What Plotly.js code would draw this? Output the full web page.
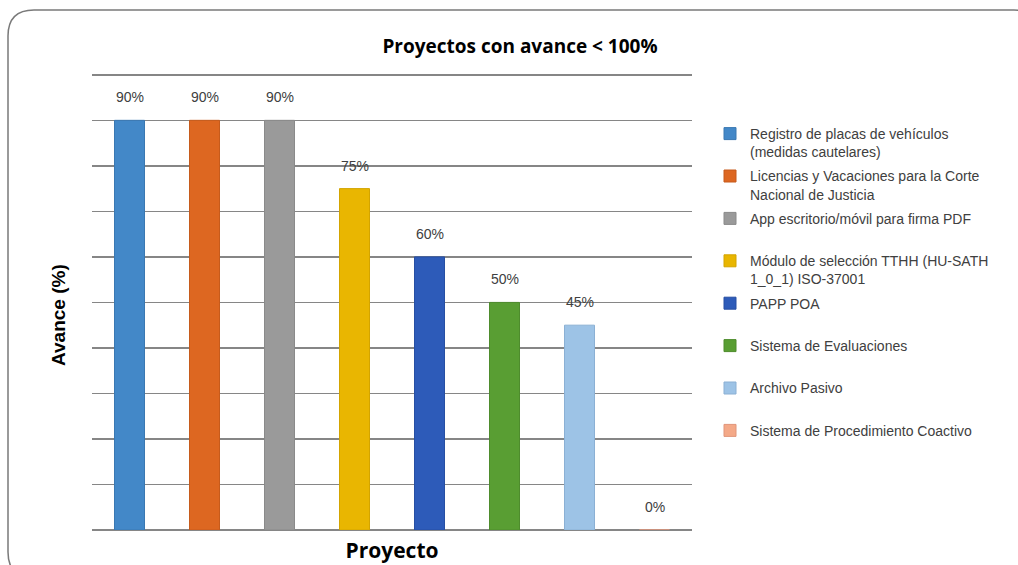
<!DOCTYPE html>
<html>
<head>
<meta charset="utf-8">
<script src="https://cdn.plot.ly/plotly-3.0.1.min.js"></script>
<style>
html,body{margin:0;padding:0;background:#fff;}
#chart{width:1018px;height:565px;}
</style>
</head>
<body>
<div id="chart"></div>
<script>
// ---- data ----
var categories = [
  "Registro de placas de vehículos (medidas cautelares)",
  "Licencias y Vacaciones para la Corte Nacional de Justicia",
  "App escritorio/móvil para firma PDF",
  "Módulo de selección TTHH (HU-SATH 1_0_1) ISO-37001",
  "PAPP POA",
  "Sistema de Evaluaciones",
  "Archivo Pasivo",
  "Sistema de Procedimiento Coactivo"
];
var legendLabels = [
  "Registro de placas de vehículos<br>(medidas cautelares)",
  "Licencias y Vacaciones para la Corte<br>Nacional de Justicia",
  "App escritorio/móvil para firma PDF<br>\u00a0",
  "Módulo de selección TTHH (HU-SATH<br>1_0_1) ISO-37001",
  "PAPP POA<br>\u00a0",
  "Sistema de Evaluaciones<br>\u00a0",
  "Archivo Pasivo<br>\u00a0",
  "Sistema de Procedimiento Coactivo<br>\u00a0"
];
var values = [90, 90, 90, 75, 60, 50, 45, 0];
var valueLabels = ["90%", "90%", "90%", "75%", "60%", "50%", "45%", "0%"];
var colors = ["#4388C8", "#DD6721", "#9A9A9A", "#E9B601", "#2D5BB9", "#599E33", "#9DC3E6", "#F4A988"];
var edgeColors = ["#3A78B2", "#C65B1C", "#8A8A8A", "#D3A400", "#274FA3", "#4E8C2D", "#8BB0D4", "#E0957A"];

// ---- traces ----
var traces = categories.map(function (c, i) {
  return {
    type: "bar",
    x: [c],
    y: [values[i]],
    name: legendLabels[i],
    legendgroup: "g" + i,
    width: 0.4,
    marker: { color: colors[i], line: { color: edgeColors[i], width: 1 } },
    hoverinfo: "skip"
  };
});

// geometry (pixels)
var L = 92, R = 692, B = 530;
var yMax = 100.4;               // slightly above 100 so the top gridline is drawn
var pxPer = 455 / 100;          // 100% spans 455 px
var T = Math.round(B - pxPer * yMax);
function px(x) { return (x - L) / (R - L); }
function py(y) { return (B - y) / (B - T); }

var annotations = categories.map(function (c, i) {
  return {
    x: c, y: values[i], xref: "x", yref: "y",
    text: valueLabels[i], showarrow: false,
    yanchor: "bottom", yshift: 13,
    font: { family: "Liberation Sans, Arial, sans-serif", size: 14, color: "#404040" }
  };
});
annotations.push({
  xref: "paper", yref: "paper", x: px(58), y: py(315),
  xanchor: "center", yanchor: "middle", textangle: -90, showarrow: false,
  text: "<b>Avance (%)</b>",
  font: { family: "Liberation Sans, Arial, sans-serif", size: 19, color: "#000" }
});

var fx0 = 8, fy0 = 10, fx1 = 1040, fy1 = 578, rad = 26;
var framePath = "M " + px(fx0) + "," + py(fy0 + rad) +
  " Q " + px(fx0) + "," + py(fy0) + " " + px(fx0 + rad) + "," + py(fy0) +
  " L " + px(fx1 - rad) + "," + py(fy0) +
  " Q " + px(fx1) + "," + py(fy0) + " " + px(fx1) + "," + py(fy0 + rad) +
  " L " + px(fx1) + "," + py(fy1 - rad) +
  " Q " + px(fx1) + "," + py(fy1) + " " + px(fx1 - rad) + "," + py(fy1) +
  " L " + px(fx0 + rad) + "," + py(fy1) +
  " Q " + px(fx0) + "," + py(fy1) + " " + px(fx0) + "," + py(fy1 - rad) + " Z";

var layout = {
  width: 1018, height: 565,
  margin: { l: L, r: 1018 - R, t: T, b: 565 - B, pad: 0 },
  paper_bgcolor: "#ffffff", plot_bgcolor: "#ffffff",
  barmode: "overlay",
  showlegend: true,
  title: {
    text: "<b>Proyectos con avance &lt; 100%</b>",
    font: { family: "Open Sans, sans-serif", size: 19, color: "#000" },
    xref: "container", x: 520 / 1018, xanchor: "center",
    yref: "container", y: 1 - 46 / 565, yanchor: "middle"
  },
  xaxis: {
    type: "category",
    categoryorder: "array", categoryarray: categories,
    showticklabels: false, ticks: "", showgrid: false, zeroline: false, showline: false,
    range: [-0.5, 7.5],
    title: {
      text: "<b>Proyecto</b>", standoff: 13,
      font: { family: "Open Sans, sans-serif", size: 21, color: "#000" }
    }
  },
  yaxis: {
    range: [0, yMax], dtick: 10, tick0: 0,
    showticklabels: false, ticks: "",
    showgrid: true, gridcolor: "#868686", gridwidth: 1.5,
    zeroline: true, zerolinecolor: "#868686", zerolinewidth: 1.5,
    showline: false
  },
  legend: {
    xref: "paper", yref: "paper",
    x: px(710), xanchor: "left",
    y: py(118), yanchor: "top",
    valign: "top",
    tracegroupgap: 3,
    traceorder: "grouped",
    bgcolor: "rgba(0,0,0,0)",
    font: { family: "Liberation Sans, Arial, sans-serif", size: 14, color: "#404040" }
  },
  annotations: annotations,
  shapes: [{
    type: "path", xref: "paper", yref: "paper", path: framePath,
    line: { color: "#7a7a7a", width: 1.5 }, layer: "below"
  }]
};

Plotly.newPlot("chart", traces, layout, { displayModeBar: false, staticPlot: true });
</script>
</body>
</html>
